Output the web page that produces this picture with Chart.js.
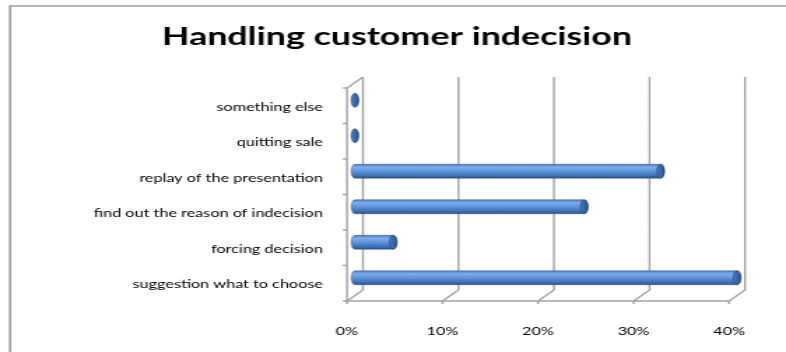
<!DOCTYPE html>
<html>
<head>
<meta charset="utf-8">
<script src="https://cdn.jsdelivr.net/npm/chart.js@4.4.0/dist/chart.umd.min.js"></script>
<style>
  html, body { margin: 0; padding: 0; background: #fff; }
  /* the canvas is drawn narrow and widened by CSS, like the stretched office chart */
  #chart { display: block; width: 786px; height: 352px; }
</style>
</head>
<body>
<canvas id="chart" width="562" height="352" style="width:786px;height:352px"></canvas>
<script>
/* ================= DATA ================= */
const categories = [
  "something else",
  "quitting sale",
  "replay of the presentation",
  "find out the reason of indecision",
  "forcing decision",
  "suggestion what to choose"
];
const shares = [0, 0, 32, 24, 4, 40];
const tickValues = [0, 10, 20, 30, 40];

/* ================= 3D LOOK ================= */
const DEPTH_X = 5.7;   // half depth of the box, canvas px
const DEPTH_Y = 5.5;
const LINE = "#a3a3a3";
const LABEL_FONT = { family: "Lato", size: 11.6 };

// white page + chart border (right/bottom run off the canvas)
const borderPlugin = {
  id: "border",
  beforeDraw(chart) {
    const ctx = chart.ctx;
    ctx.save();
    ctx.fillStyle = "#fff";
    ctx.fillRect(0, 0, chart.width, chart.height);
    ctx.strokeStyle = "#9b9b9b";
    ctx.lineWidth = 1.5;
    ctx.strokeRect(7.2, 6, chart.width + 20, chart.height + 20);
    ctx.restore();
  }
};

// walls, floor and gridlines of the 3D box
const framePlugin = {
  id: "frame3d",
  beforeDatasetsDraw(chart) {
    const { ctx, chartArea: a, scales: { x } } = chart;
    const front = v => x.getPixelForValue(v) - DEPTH_X;
    const back = v => x.getPixelForValue(v) + DEPTH_X;
    const fTop = a.top + DEPTH_Y, fBot = a.bottom + DEPTH_Y;
    const bTop = a.top - DEPTH_Y, bBot = a.bottom - DEPTH_Y;
    const x0 = front(tickValues[0]);
    const band = (a.bottom - a.top) / categories.length;

    ctx.save();
    ctx.strokeStyle = LINE;
    ctx.lineWidth = 1.4;
    ctx.beginPath();
    tickValues.forEach(v => {
      ctx.moveTo(back(v), bTop);
      ctx.lineTo(back(v), bBot);
      ctx.lineTo(front(v), fBot);
      ctx.lineTo(front(v), fBot + 3);
    });
    // front floor edge
    ctx.moveTo(x0, fBot);
    ctx.lineTo(front(tickValues[tickValues.length - 1]), fBot);
    // left wall
    ctx.moveTo(x0, fBot);
    ctx.lineTo(x0, fTop);
    ctx.lineTo(back(tickValues[0]), bTop);
    // category ticks
    for (let i = 0; i <= categories.length; i++) {
      const yy = fTop + i * band;
      ctx.moveTo(x0 - 3, yy);
      ctx.lineTo(x0, yy);
    }
    ctx.stroke();
    ctx.restore();
  }
};

// cylinder bars drawn over the (transparent) chart.js bars
const cylinderPlugin = {
  id: "cylinders",
  afterDatasetsDraw(chart) {
    const ctx = chart.ctx;
    chart.getDatasetMeta(0).data.forEach(bar => {
      const { x: end, y: yc, base, height } = bar.getProps(["x", "y", "base", "height"], true);
      const ry = height / 2;
      const rx = 2.7;

      ctx.save();
      if (end > base) {
        const g = ctx.createLinearGradient(0, yc - ry, 0, yc + ry);
        g.addColorStop(0, "#4a7cc0");
        g.addColorStop(0.22, "#7eadec");
        g.addColorStop(0.5, "#5f94db");
        g.addColorStop(0.78, "#4275ba");
        g.addColorStop(1, "#2a5390");
        ctx.beginPath();
        ctx.moveTo(base, yc - ry);
        ctx.lineTo(end, yc - ry);
        ctx.ellipse(end, yc, rx, ry, 0, -Math.PI / 2, Math.PI / 2);
        ctx.lineTo(base, yc + ry);
        ctx.ellipse(base, yc, rx, ry, 0, Math.PI / 2, Math.PI * 1.5);
        ctx.closePath();
        ctx.fillStyle = g;
        ctx.fill();
        ctx.strokeStyle = "rgba(38,72,122,0.7)";
        ctx.lineWidth = 0.6;
        ctx.stroke();
      }
      // end cap
      const cg = ctx.createLinearGradient(end - rx, 0, end + rx, 0);
      cg.addColorStop(0, "#4a7bbd");
      cg.addColorStop(1, "#2a528e");
      ctx.beginPath();
      ctx.ellipse(end, yc, rx, ry, 0, 0, Math.PI * 2);
      ctx.fillStyle = cg;
      ctx.fill();
      ctx.strokeStyle = "#264a7e";
      ctx.lineWidth = 0.6;
      ctx.stroke();
      ctx.restore();
    });
  }
};

/* ================= CHART ================= */
const ctx = document.getElementById("chart");

new Chart(ctx, {
  type: "bar",
  data: {
    labels: categories,
    datasets: [{
      data: shares,
      backgroundColor: "rgba(0,0,0,0)",
      borderWidth: 0,
      barThickness: 14
    }]
  },
  options: {
    indexAxis: "y",
    responsive: false,
    animation: false,
    layout: { padding: { left: 40.8, right: 35, top: 0, bottom: 0 } },
    plugins: {
      legend: { display: false },
      tooltip: { enabled: false },
      title: {
        display: true,
        text: "Handling customer indecision",
        color: "#000",
        font: { family: "Lato", size: 25.6, weight: "bold", lineHeight: 1.2 },
        padding: { top: 21.6, bottom: 30.18 }
      }
    },
    scales: {
      x: {
        min: 0,
        max: 40,
        grid: { display: false, drawTicks: false },
        border: { display: false },
        afterBuildTicks: scale => {
          scale.ticks = tickValues.map(v => ({ value: v }));
        },
        afterFit: scale => {
          scale.height = 56.5;
          scale.paddingLeft = 0;
          scale.paddingRight = 0;
        },
        ticks: {
          color: "#000",
          font: LABEL_FONT,
          padding: 28.5,
          labelOffset: -DEPTH_X,
          callback: v => v + "%"
        }
      },
      y: {
        grid: { display: false, drawTicks: false },
        border: { display: false },
        afterFit: scale => {
          scale.width = 213;
          scale.paddingTop = 0;
          scale.paddingBottom = 0;
        },
        ticks: {
          color: "#000",
          font: LABEL_FONT,
          padding: 22.9,
          labelOffset: 6.5
        }
      }
    }
  },
  plugins: [borderPlugin, framePlugin, cylinderPlugin]
});
</script>
</body>
</html>
